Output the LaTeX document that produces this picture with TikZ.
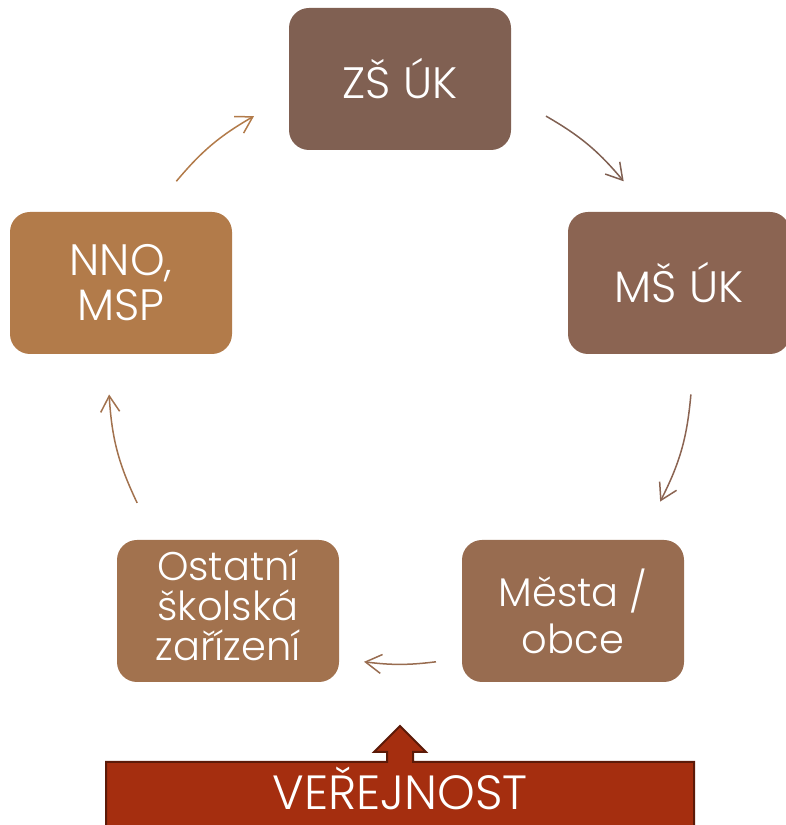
\documentclass[tikz,border=0pt]{standalone}
\usepackage{fontspec}
\setmainfont{Poppins}[UprightFont={* Light}]
\usetikzlibrary{arrows.meta,positioning}

\definecolor{zsbrown}{RGB}{128,96,82}
\definecolor{msbrown}{RGB}{139,100,82}
\definecolor{citybrown}{RGB}{152,108,80}
\definecolor{schoolbrown}{RGB}{162,114,78}
\definecolor{nnobrown}{RGB}{178,123,74}
\definecolor{publicred}{RGB}{165,46,15}
\definecolor{publicdark}{RGB}{92,26,8}

\tikzset{
  stage/.style={fill=#1, rounded corners=20pt, minimum width=222pt,
    minimum height=142pt, inner sep=0pt, text=white, align=center},
  bigtext/.style={font=\fontsize{44}{45}\selectfont},
  smalltext/.style={font=\fontsize{40}{#1}\selectfont},
  cyclearrow/.style={draw=#1, line width=1.5pt,
    -{Straight Barb[length=16pt,width=19pt]}},
}

\begin{document}
\begin{tikzpicture}[x=1pt,y=1pt]
  \useasboundingbox (0,0) rectangle (786,825);

  % the five boxes of the cycle
  \node[stage=zsbrown, bigtext] (zs) at (400,746) {ZŠ ÚK};
  \node[stage=msbrown, bigtext] (ms) at (679,542) {MŠ ÚK};
  \node[stage=citybrown, smalltext=47] (city) at (573,214) {Města /\\obce};
  \node[stage=schoolbrown, smalltext=40] (school) at (228,214)
    {Ostatní\\školská\\zařízení\rule[-12pt]{0pt}{12pt}};
  \node[stage=nnobrown, bigtext] (nno) at (121,542) {NNO,\\MSP};

  % arrow ends on a circle round the middle
  \coordinate (mid) at (400,456);
  \path (mid) ++(60:292) coordinate (zs-out);
  \path (mid) ++(40:292) coordinate (ms-in);
  \path (mid) ++(-5:292) coordinate (ms-out);
  \path (mid) ++(-27:292) coordinate (city-in);
  \path (mid) ++(-83:295) coordinate (city-out);
  \path (mid) ++(-97:295) coordinate (school-in);
  \path (mid) ++(207:295) coordinate (school-out);
  \path (mid) ++(185:292) coordinate (nno-in);
  \path (mid) ++(140:292) coordinate (nno-out);
  \path (mid) ++(120:292) coordinate (zs-in);

  \draw[cyclearrow=zsbrown] (zs-out) to[bend left=10] (ms-in);
  \draw[cyclearrow=msbrown] (ms-out) to[bend left=11] (city-in);
  \draw[cyclearrow=citybrown] (city-out) to[bend left=7] (school-in);
  \draw[cyclearrow=schoolbrown] (school-out) to[bend left=11] (nno-in);
  \draw[cyclearrow=nnobrown] (nno-out) to[bend left=10] (zs-in);

  % public with its arrow up
  \draw[fill=publicred, draw=publicdark, line width=2pt]
    (106,-10) -- (106,63) -- (387,63) -- (387,73) -- (374,73) -- (400,99)
    -- (426,73) -- (413,73) -- (413,63) -- (694,63) -- (694,-10) -- cycle;
  \node[text=white, font=\fontsize{48}{48}\selectfont, inner sep=0pt,
    anchor=base] (public) at (400,15) {VEŘEJNOST};
\end{tikzpicture}
\end{document}
